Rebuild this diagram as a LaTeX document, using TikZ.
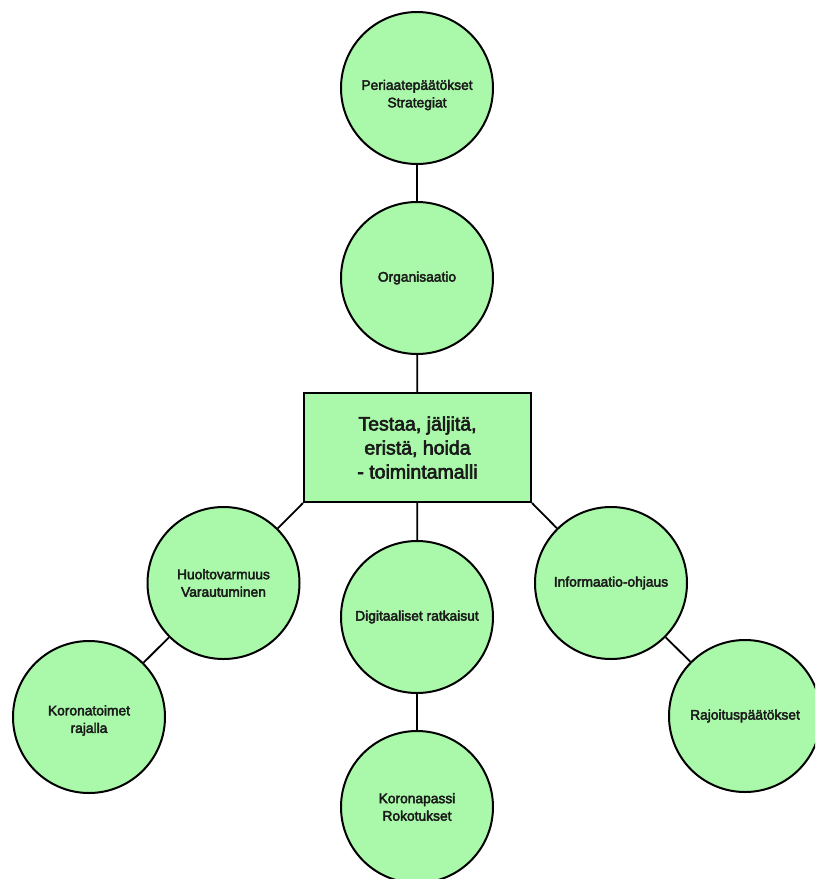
\documentclass[tikz,border=0pt]{standalone}
\usepackage{fontspec}
\setmainfont{Liberation Sans}[FakeBold=3]
\definecolor{nodegreen}{HTML}{AAF9AA}
\definecolor{txt}{HTML}{1A1A1A}
\tikzset{
  bubble/.style={circle, draw=black, line width=2pt, fill=nodegreen, minimum size=152pt, inner sep=0pt, align=center, text=txt, font=\fontsize{13.8}{17.5}\selectfont},
  mainbox/.style={rectangle, draw=black, line width=2pt, fill=nodegreen, minimum width=227pt, minimum height=109pt, inner sep=0pt, align=center, text=txt, font=\fontsize{19.5}{24}\selectfont},
  link/.style={draw=black, line width=1.8pt}
}
\begin{document}
\begin{tikzpicture}[x=1pt,y=-1pt]
\useasboundingbox (0,0) rectangle (815,879);
\clip (0,0) rectangle (815,879);
\fill[white] (0,0) rectangle (815,879);
\node[mainbox] (box) at (417.5,447.5) {Testaa, jäljitä,\\eristä, hoida\\ - toimintamalli};
\node[bubble] (peri) at (417,88) {\rule{0pt}{24pt}Periaatepäätökset\\Strategiat};
\node[bubble] (org) at (417,278) {Organisaatio};
\node[bubble] (huolto) at (223.5,583) {Huoltovarmuus\\Varautuminen};
\node[bubble] (digi) at (417,617) {Digitaaliset ratkaisut};
\node[bubble] (info) at (611,583) {Informaatio-ohjaus};
\node[bubble] (kor) at (89,717) {\rule{0pt}{17pt}Koronatoimet\\rajalla};
\node[bubble] (passi) at (417,807) {Koronapassi\\Rokotukset};
\node[bubble] (rajo) at (745,716) {Rajoituspäätökset};
\draw[link] (peri) -- (org);
\draw[link] (org) -- (box);
\draw[link] (box.south west) -- (huolto);
\draw[link] (box) -- (digi);
\draw[link] (box.south east) -- (info);
\draw[link] (huolto) -- (kor);
\draw[link] (digi) -- (passi);
\draw[link] (info) -- (rajo);
\end{tikzpicture}
\end{document}
